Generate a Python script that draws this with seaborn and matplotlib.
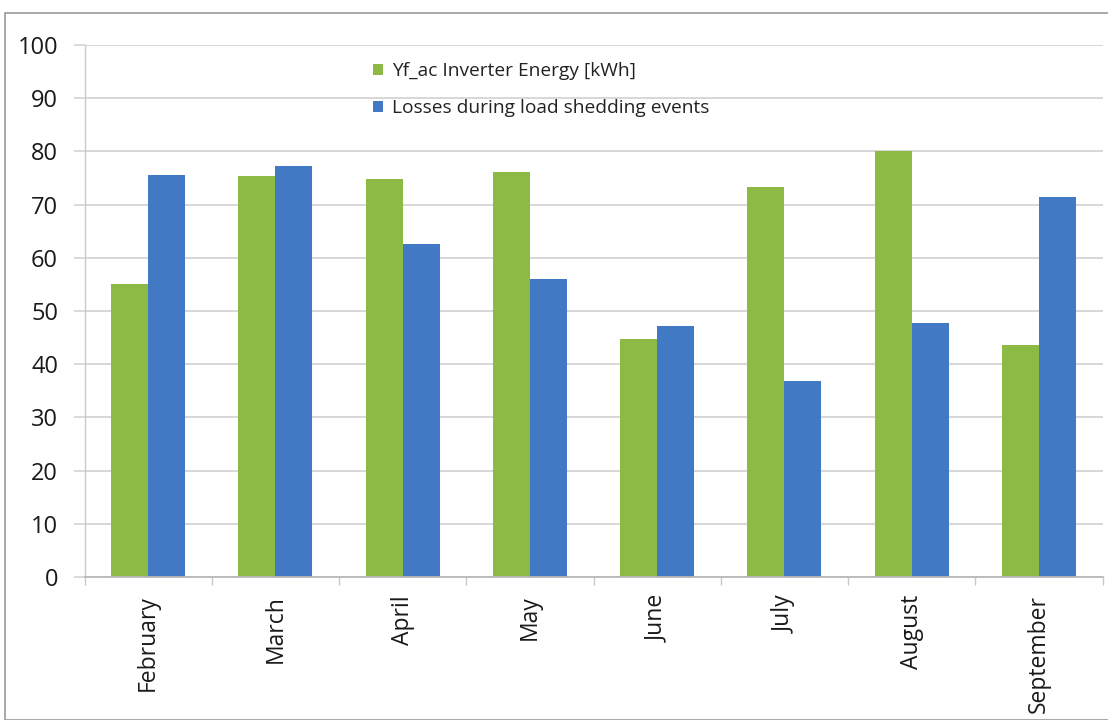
import matplotlib
matplotlib.use("Agg")
import matplotlib.pyplot as plt
import seaborn as sns
import pandas as pd
import numpy as np
from matplotlib.patches import Rectangle

months = ["February", "March", "April", "May", "June", "July", "August", "September"]
yf_ac = [55.0, 75.3, 74.8, 76.2, 44.7, 73.3, 80.1, 43.7]
losses = [75.5, 77.2, 62.6, 56.0, 47.2, 36.9, 47.8, 71.4]
series_names = ["Yf_ac Inverter Energy [kWh]", "Losses during load shedding events"]
colors = ["#8DBA45", "#4279C4"]

df = pd.DataFrame({
    "Month": months * 2,
    "Value": yf_ac + losses,
    "Series": [series_names[0]] * len(months) + [series_names[1]] * len(months),
})

sns.set_style("white")
plt.rcParams["font.family"] = ["Open Sans", "DejaVu Sans"]

fig = plt.figure(figsize=(11.08, 7.2), dpi=100)
ax = fig.add_axes([84.5 / 1108, 0.1986, 1018 / 1108, 0.7389])

sns.barplot(data=df, x="Month", y="Value", hue="Series", palette=colors,
            width=0.58, saturation=1, ax=ax, order=months, hue_order=series_names,
            linewidth=0, edgecolor="none")

ax.set_ylim(0, 100)
ax.set_xlim(-0.5, len(months) - 0.5)
ax.set_yticks(np.arange(0, 101, 10))
ax.yaxis.grid(True, color="#D4D4D4", linewidth=1.3)
ax.set_axisbelow(True)
ax.set_xlabel("")
ax.set_ylabel("")
for s in ["top", "right"]:
    ax.spines[s].set_visible(False)
ax.spines["left"].set_color("#C8C8C8")
ax.spines["bottom"].set_color("#B8B8B8")
ax.spines["left"].set_linewidth(1.0)
ax.spines["bottom"].set_linewidth(1.3)

ax.tick_params(axis="y", left=True, length=8, width=1.2, color="#D4D4D4", labelsize=17,
               pad=11, labelcolor="#1A1A1A", direction="out")
ax.set_xticks(range(len(months)))
ax.set_xticklabels(months, rotation=90, fontsize=16.5, color="#1A1A1A")
ax.tick_params(axis="x", which="major", bottom=False, length=0, pad=13)
ax.set_xticks(np.arange(-0.5, len(months), 1.0), minor=True)
ax.tick_params(axis="x", which="minor", bottom=True, length=6, width=1.0,
               color="#C8C8C8", direction="out")

leg = ax.legend(loc="upper left", bbox_to_anchor=(0.266, 1.0), frameon=False,
                fontsize=13.8, handlelength=0.55, handleheight=0.55,
                handletextpad=0.45, labelspacing=1.0)
for t in leg.get_texts():
    t.set_color("#222222")

fig.patches.append(Rectangle((5 / 1108, 0), 1.0, (720 - 13) / 720,
                             transform=fig.transFigure, fill=False,
                             edgecolor="#9A9A9A", linewidth=1.2, zorder=0))

fig.savefig("out.png", dpi=100, facecolor="white")
